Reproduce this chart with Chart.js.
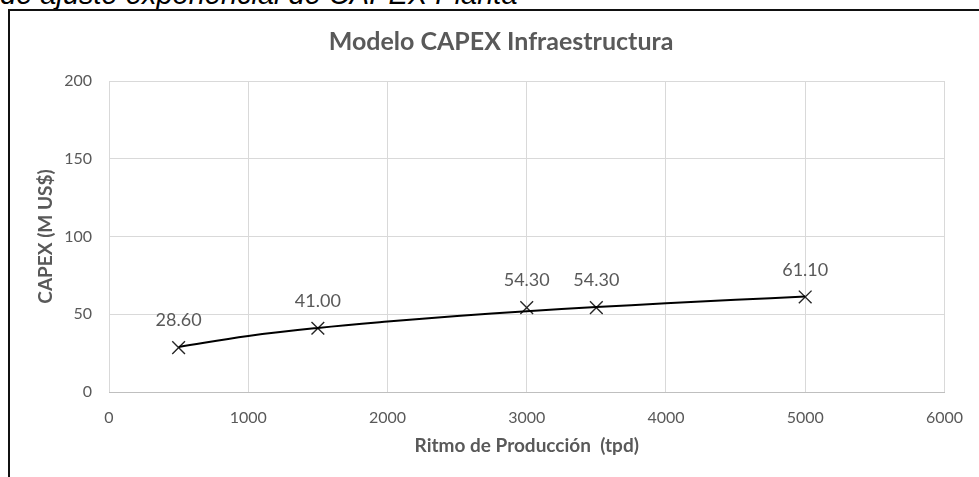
<!DOCTYPE html>
<html>
<head>
<meta charset="utf-8">
<script src="https://cdn.jsdelivr.net/npm/chart.js@4"></script>
<style>
  html, body { margin: 0; padding: 0; background: #fff; overflow: hidden; }
  #wrap { position: relative; width: 979px; height: 477px; }
  #caption {
    position: absolute; left: 0; top: -20px; white-space: nowrap;
    font: italic 29px/29px "Liberation Sans", Arial, sans-serif; color: #000;
  }
  #frame {
    position: absolute; left: 8px; top: 9px; right: -5px; bottom: -5px;
    border-top: 2px solid #111; border-left: 2px solid #111;
  }
  canvas { position: absolute; left: 0; top: 0; }
</style>
</head>
<body>
<div id="wrap">
  <div id="caption">de ajuste exponencial de CAPEX Planta</div>
  <div id="frame"></div>
  <canvas id="capexChart" width="979" height="477"></canvas>
</div>
<script>
// Puntos de datos (tpd, M US$)
const ritmo = [500, 1500, 3000, 3500, 5000];
const capex = [28.6, 41.0, 54.3, 54.3, 61.1];
const etiquetas = ['28.60', '41.00', '54.30', '54.30', '61.10'];

// Línea de tendencia
const trendX = [500, 1000, 1500, 2000, 2500, 3000, 3500, 4000, 4500, 5000];
const trendY = [29.0, 36.0, 41.2, 45.3, 48.8, 51.9, 54.6, 57.0, 59.3, 61.4];

const xTicks = [0, 1000, 2000, 3000, 4000, 5000, 6000];
const yTicks = [0, 50, 100, 150, 200];

const gray = '#595959';
const font = 'Lato';

// Etiquetas de datos sobre cada punto
const pointLabels = {
  id: 'pointLabels',
  afterDatasetsDraw(chart) {
    const ctx = chart.ctx;
    const meta = chart.getDatasetMeta(1);
    ctx.save();
    ctx.font = '18px ' + font;
    ctx.fillStyle = gray;
    ctx.textAlign = 'center';
    ctx.textBaseline = 'middle';
    meta.data.forEach((pt, i) => {
      ctx.fillText(etiquetas[i], pt.x, pt.y - 27);
    });
    ctx.restore();
  }
};

const ctx = document.getElementById('capexChart').getContext('2d');
new Chart(ctx, {
  type: 'scatter',
  data: {
    datasets: [{
      label: 'Tendencia',
      data: trendX.map((x, i) => ({ x: x, y: trendY[i] })),
      showLine: true,
      borderColor: '#000',
      borderWidth: 2,
      tension: 0.4,
      pointRadius: 0,
      fill: false
    }, {
      label: 'CAPEX',
      data: ritmo.map((x, i) => ({ x: x, y: capex[i] })),
      showLine: false,
      pointStyle: 'crossRot',
      pointRadius: 9,
      borderColor: '#262626',
      borderWidth: 1.4
    }]
  },
  options: {
    responsive: false,
    animation: false,
    // left padding pushes the title's centre to the right; y-axis title pulled back below
    layout: { padding: { top: 0, right: 31, bottom: 0, left: 54 } },
    plugins: {
      legend: { display: false },
      tooltip: { enabled: false },
      title: {
        display: true,
        text: 'Modelo CAPEX Infraestructura',
        color: gray,
        font: { family: font, size: 25, weight: 'bold' },
        padding: { top: 27, bottom: 24 }
      }
    },
    scales: {
      x: {
        type: 'linear',
        min: 0,
        max: 6000,
        afterBuildTicks: axis => { axis.ticks = xTicks.map(v => ({ value: v })); },
        afterFit: axis => { axis.height = 85; },
        ticks: {
          callback: v => String(v),
          color: gray,
          font: { family: font, size: 16 },
          padding: 16
        },
        grid: { color: '#d9d9d9', drawTicks: false },
        border: { color: '#bfbfbf' },
        title: {
          display: true,
          text: 'Ritmo de Producción  (tpd)',
          color: gray,
          font: { family: font, size: 19, weight: 'bold' },
          padding: { top: 0, bottom: 20 }
        }
      },
      y: {
        min: 0,
        max: 200,
        afterBuildTicks: axis => { axis.ticks = yTicks.map(v => ({ value: v })); },
        afterFit: axis => { axis.width = 55; },
        ticks: {
          color: gray,
          font: { family: font, size: 16 },
          padding: 17
        },
        grid: { color: '#d9d9d9', drawTicks: false },
        border: { display: false },
        title: {
          display: true,
          text: 'CAPEX (M US$)',
          color: gray,
          font: { family: font, size: 19, weight: 'bold' },
          padding: { top: -20, bottom: 0 }
        }
      }
    }
  },
  plugins: [pointLabels]
});
</script>
</body>
</html>
